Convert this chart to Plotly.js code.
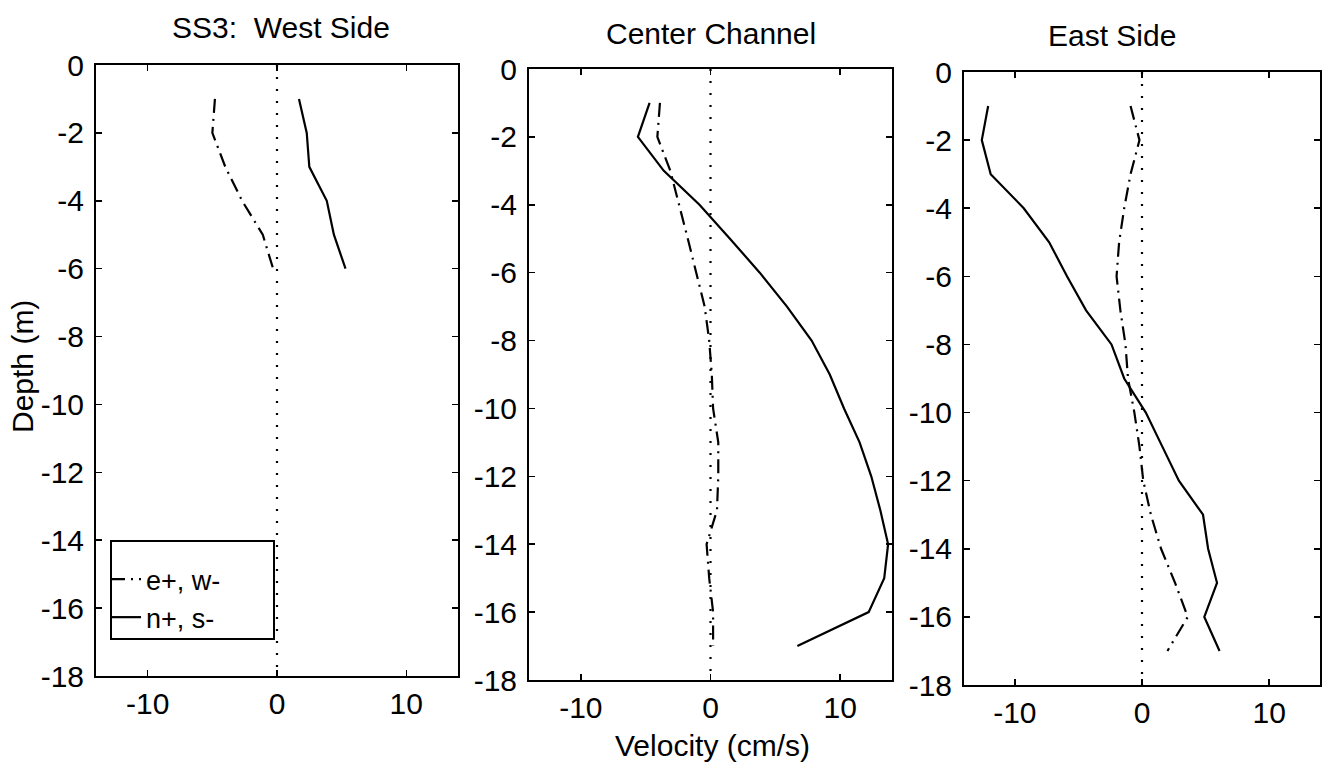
<!DOCTYPE html>
<html>
<head>
<meta charset="utf-8">
<script src="https://cdn.plot.ly/plotly-3.0.1.min.js"></script>
<style>
  html, body { margin: 0; padding: 0; background: #ffffff; }
  #chart { width: 1324px; height: 772px; }
</style>
</head>
<body>
<div id="chart"></div>
<script>
// ---------------- data ----------------
const panelTitles = ['SS3:\u00a0 West Side', 'Center Channel', 'East Side'];
const seriesNames = ['e+, w-', 'n+, s-'];

const depthWest = [-1, -2, -3, -4, -5, -6];
const westEW = [-4.8, -5.0, -4.0, -2.7, -1.1, -0.3];
const westNS = [1.7, 2.3, 2.5, 3.85, 4.4, 5.3];

const depthCenter = [-1, -2, -3, -4, -5, -6, -7, -8, -9, -10, -11, -12, -13, -14, -15, -16, -17];
const centerEW = [-3.9, -4.1, -3.1, -2.4, -1.75, -1.1, -0.45, -0.1, 0.1, 0.2, 0.6, 0.6, 0.5, -0.3, -0.1, 0.2, 0.2];
const centerNS = [-4.7, -5.6, -3.6, -0.85, 1.5, 3.8, 5.9, 7.8, 9.2, 10.3, 11.5, 12.4, 13.1, 13.7, 13.4, 12.2, 6.7];

const depthEast = [-1, -2, -3, -4, -5, -6, -7, -8, -9, -10, -11, -12, -13, -14, -15, -16, -17];
const eastEW = [-0.9, -0.2, -0.9, -1.4, -1.8, -2.0, -1.7, -1.3, -1.1, -0.6, -0.2, 0.1, 0.7, 1.5, 2.6, 3.6, 2.0];
const eastNS = [-12.1, -12.6, -11.9, -9.3, -7.3, -5.9, -4.4, -2.4, -1.4, 0.3, 1.6, 2.9, 4.8, 5.2, 5.9, 4.9, 6.1];

const zeroLineX = [0, 0];
const zeroLineY = [0, -18];

const xTickVals = [-10, 0, 10];
const xTickText = ['-10', '0', '10'];
const yTickVals = [0, -2, -4, -6, -8, -10, -12, -14, -16, -18];
const yTickText = ['0', '-2', '-4', '-6', '-8', '-10', '-12', '-14', '-16', '-18'];
const xAxisTitle = 'Velocity (cm/s)';
const yAxisTitle = 'Depth (m)';

// ---------------- styling ----------------
const FONT = 'Liberation Sans, Arial, Helvetica, sans-serif';
const FS = 30;
const W = 1324, H = 772;
const dashDot = '14px,6px,2px,6px';
const dotted = '2px,10px';

function px2x(p) { return p / W; }
function px2y(p) { return 1 - p / H; }

const panels = [
  { xs: 'x',  ys: 'y',  depth: depthWest,   ew: westEW,   ns: westNS,   box: [96, 458, 65, 676] },
  { xs: 'x2', ys: 'y2', depth: depthCenter, ew: centerEW, ns: centerNS, box: [529, 892, 69, 680] },
  { xs: 'x3', ys: 'y3', depth: depthEast,   ew: eastEW,   ns: eastNS,   box: [964, 1320, 72, 685] }
];

const traces = [];
panels.forEach((p, i) => {
  traces.push({
    x: zeroLineX, y: zeroLineY, xaxis: p.xs, yaxis: p.ys, mode: 'lines',
    line: { color: '#000', width: 2.2, dash: dotted }, showlegend: false, hoverinfo: 'skip'
  });
  traces.push({
    x: p.ew, y: p.depth, xaxis: p.xs, yaxis: p.ys, mode: 'lines', name: seriesNames[0],
    line: { color: '#000', width: 2.2, dash: dashDot }, showlegend: i === 0
  });
  traces.push({
    x: p.ns, y: p.depth, xaxis: p.xs, yaxis: p.ys, mode: 'lines', name: seriesNames[1],
    line: { color: '#000', width: 2.2 }, showlegend: i === 0
  });
});

function xAxis(p, anchor) {
  return {
    domain: [px2x(p.box[0]), px2x(p.box[1])], anchor: anchor,
    range: [-14, 14], tickmode: 'array', tickvals: xTickVals, ticktext: xTickText,
    ticks: 'inside', ticklen: 6, tickwidth: 1.5, tickcolor: '#000',
    showline: true, linecolor: '#000', linewidth: 2, mirror: 'ticks',
    showgrid: false, zeroline: false, automargin: false, fixedrange: true,
    tickfont: { family: FONT, size: FS, color: '#000' }, ticklabelstandoff: 0
  };
}
function yAxis(p, anchor) {
  return {
    domain: [px2y(p.box[3]), px2y(p.box[2])], anchor: anchor,
    range: [-18, 0], tickmode: 'array', tickvals: yTickVals, ticktext: yTickText,
    ticks: 'inside', ticklen: 6, tickwidth: 1.5, tickcolor: '#000',
    showline: true, linecolor: '#000', linewidth: 2, mirror: 'ticks',
    showgrid: false, zeroline: false, automargin: false, fixedrange: true,
    tickfont: { family: FONT, size: FS, color: '#000' }, ticklabelstandoff: 4
  };
}

const annotations = [
  { text: panelTitles[0], x: px2x(281), y: px2y(27) },
  { text: panelTitles[1], x: px2x(711), y: px2y(33) },
  { text: panelTitles[2], x: px2x(1112), y: px2y(36) },
  { text: xAxisTitle, x: px2x(712), y: px2y(745) },
  { text: yAxisTitle, x: px2x(22), y: px2y(367), textangle: -90 }
].map(a => Object.assign({
  xref: 'paper', yref: 'paper', xanchor: 'center', yanchor: 'middle',
  showarrow: false, font: { family: FONT, size: FS, color: '#000' }
}, a));

const layout = {
  width: W, height: H,
  margin: { l: 0, r: 0, t: 0, b: 0, pad: 0 },
  paper_bgcolor: '#fff', plot_bgcolor: '#fff',
  font: { family: FONT, size: FS, color: '#000' },
  xaxis: xAxis(panels[0], 'y'), yaxis: yAxis(panels[0], 'x'),
  xaxis2: xAxis(panels[1], 'y2'), yaxis2: yAxis(panels[1], 'x2'),
  xaxis3: xAxis(panels[2], 'y3'), yaxis3: yAxis(panels[2], 'x3'),
  showlegend: true,
  legend: {
    x: px2x(106), y: px2y(555), xanchor: 'left', yanchor: 'top',
    bgcolor: 'rgba(255,255,255,0)', borderwidth: 0,
    font: { family: FONT, size: 27, color: '#000' },
    tracegroupgap: 0, itemwidth: 30
  },
  shapes: [{
    type: 'rect', xref: 'paper', yref: 'paper',
    x0: px2x(111), x1: px2x(274), y0: px2y(541), y1: px2y(639),
    line: { color: '#000', width: 2 }, fillcolor: 'rgba(0,0,0,0)', layer: 'above'
  }],
  annotations: annotations
};

Plotly.newPlot('chart', traces, layout, { staticPlot: true, displayModeBar: false });
</script>
</body>
</html>
